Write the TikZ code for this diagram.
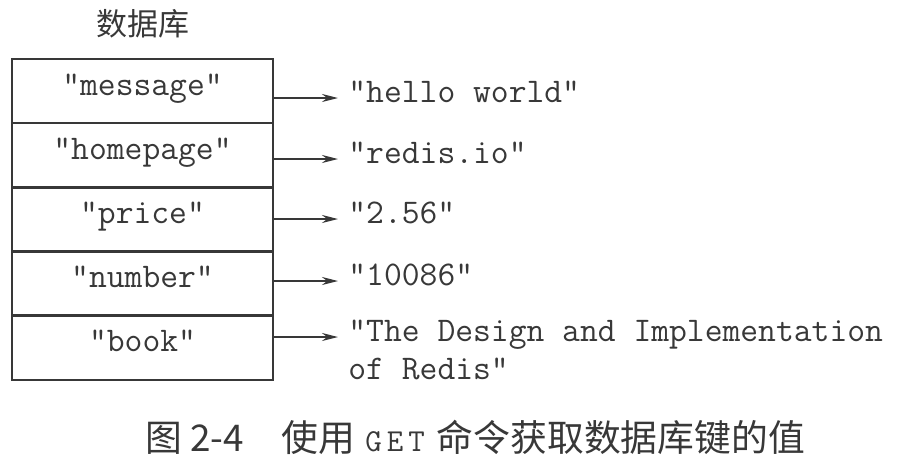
\documentclass[tikz,border=0pt]{standalone}
\usepackage{fontspec}
\newfontfamily\cjk{Noto Sans CJK SC}
\usetikzlibrary{positioning,arrows.meta}
\definecolor{ink}{HTML}{383838}
\tikzset{>={Stealth[length=8pt,width=4pt]}}
\tikzset{
  keybox/.style={draw=ink,line width=1.3pt,outer sep=0pt,inner sep=0pt,
    minimum width=130.5pt,minimum height=32.1pt,text height=0.6em,text depth=0.2em,
    font=\ttfamily\fontsize{17.3}{20}\selectfont},
  val/.style={anchor=mid west,inner xsep=5pt,inner ysep=0pt,
    font=\ttfamily\fontsize{17.3}{20}\selectfont},
}
\newcommand\getcmd{{\ttfamily\fontsize{16}{18}\selectfont G\kern2.5pt E\kern2.5pt T}}

\begin{document}
\begin{tikzpicture}[x=.5pt,y=-.5pt,color=ink]
\useasboundingbox (0,0) rectangle (924,456);
\node[font=\cjk\fontsize{15.5}{18}\selectfont] (db) at (143,24) {数据库};
% keys
\node[keybox] (message) at (142.5,91) {"message"};
\node[keybox,below=0pt of message] (homepage) {"homepage"};
\node[keybox,below=0pt of homepage] (price) {"price"};
\node[keybox,below=0pt of price] (number) {"number"};
\node[keybox,below=0pt of number] (book) {"book"};
% values
\node[val] (hello) at (338,98) {"hello world"};
\node[val] (redisio) at (338,159) {"redis.io"};
\node[val] (float) at (338,219) {"2.56"};
\node[val] (digits) at (338,281) {"10086"};
\node[val] (design) at (338,337) {"The Design and Implementation};
\node[val] (designb) at (338,375) {of Redis"};
\foreach \k/\v in {message/hello,homepage/redisio,price/float,number/digits,book/design}
  \draw[->,line width=1pt] (\k.east |- \v.mid west) -- (\v.mid west);
\node[anchor=west,inner xsep=0pt,font=\cjk\fontsize{18.4}{20}\selectfont] (caption) at (145,437)
  {图\hspace{4pt}2-4\hspace{19pt}使用\hspace{5pt}\getcmd\hspace{6pt}命令获取数据库键的值};
\end{tikzpicture}
\end{document}
